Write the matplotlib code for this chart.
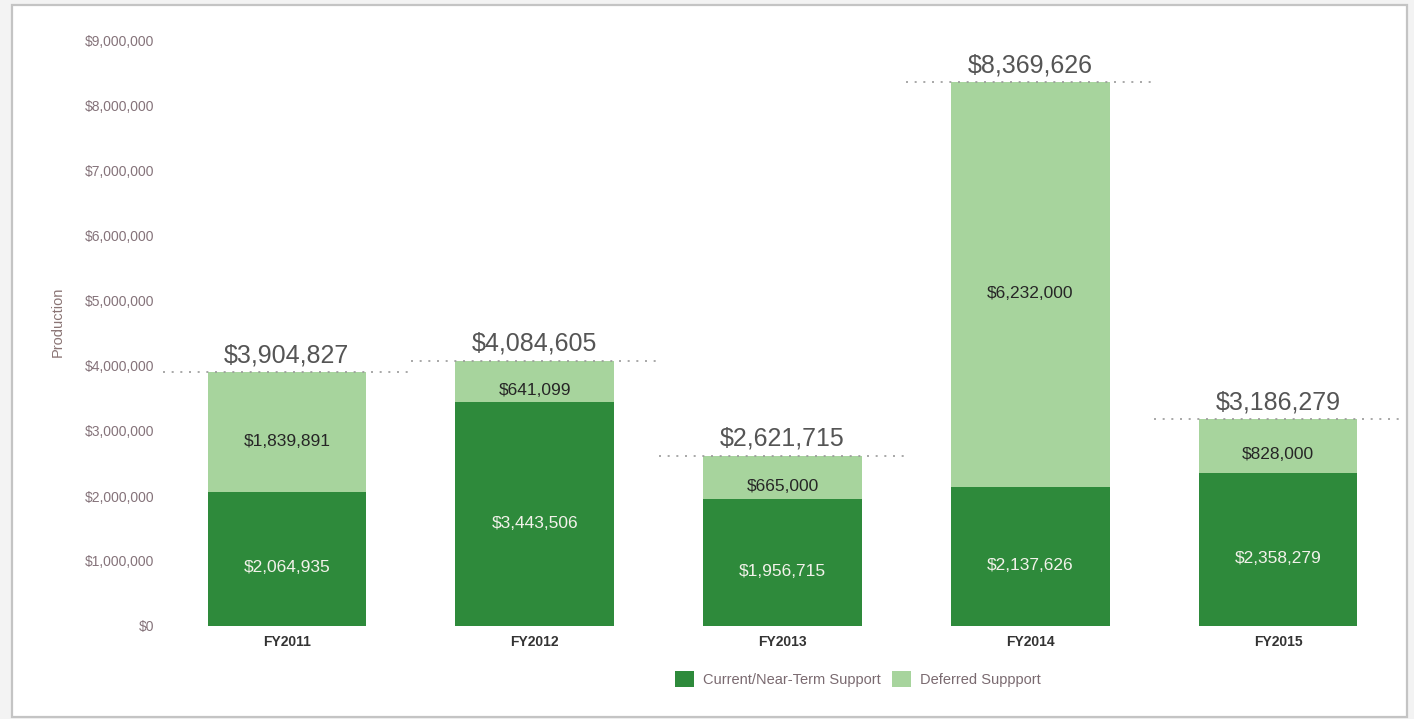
import matplotlib
matplotlib.use("Agg")
import matplotlib.pyplot as plt
from matplotlib.patches import Rectangle, Patch
from matplotlib.ticker import FuncFormatter

categories = ["FY2011", "FY2012", "FY2013", "FY2014", "FY2015"]
current_support = [2064935, 3443506, 1956715, 2137626, 2358279]
deferred_support = [1839891, 641099, 665000, 6232000, 828000]
total_labels = ["$3,904,827", "$4,084,605", "$2,621,715", "$8,369,626", "$3,186,279"]
series_names = ["Current/Near-Term Support", "Deferred Suppport"]
y_ticks = [0, 1000000, 2000000, 3000000, 4000000, 5000000, 6000000, 7000000, 8000000, 9000000]

plt.rcParams['font.family'] = ['Liberation Sans', 'DejaVu Sans']

W, H = 1414, 719
fig = plt.figure(figsize=(W / 100, H / 100), dpi=100)
fig.patch.set_facecolor('#f3f3f3')

# panel background / border
panel = Rectangle((12 / W, 1 - 717 / H), (1407 - 12) / W, (717 - 5) / H,
                  transform=fig.transFigure, facecolor='white',
                  edgecolor='#c4c4c4', linewidth=1.6, zorder=-10)
fig.patches.append(panel)

ax = fig.add_axes([163 / W, (H - 626) / H, (1402 - 163) / W, 598 / H])
ax.set_facecolor('none')
ax.set_zorder(1)

dark = '#2e8a3b'
light = '#a7d49d'
x = list(range(len(categories)))
width = 0.64

ax.bar(x, current_support, width, color=dark, label=series_names[0], zorder=2)
ax.bar(x, deferred_support, width, bottom=current_support, color=light,
       label=series_names[1], zorder=2)

totals = [c + d for c, d in zip(current_support, deferred_support)]

for i in x:
    c = current_support[i]
    d = deferred_support[i]
    t = totals[i]
    ax.annotate(f"${c:,}", (i, c / 2), xytext=(0, -6.5), textcoords='offset points',
                ha='center', va='center', fontsize=12.5, color='#f2f2ea', zorder=3)
    ax.annotate(f"${d:,}", (i, c + d / 2), xytext=(0, -6.5), textcoords='offset points',
                ha='center', va='center', fontsize=12.5, color='#262626',
                fontweight='medium', zorder=3)
    ax.plot([i - 0.5, i + 0.5], [t, t], linestyle=(0, (1.2, 4)), color='#9a9a9a',
            linewidth=1.2, zorder=4)
    ax.annotate(total_labels[i], (i, t), xytext=(0, 7), textcoords='offset points',
                ha='center', va='baseline', fontsize=18, color='#555555', zorder=3)

ax.set_xlim(-0.5, 4.5)
ax.set_ylim(0, 9200000)
ax.set_yticks(y_ticks)
ax.yaxis.set_major_formatter(FuncFormatter(lambda v, p: f"${int(v):,}"))
ax.set_xticks(x)
ax.set_xticklabels(categories, fontweight='bold', fontsize=10, color='#333333')
ax.tick_params(axis='y', length=0, pad=6, labelsize=10, labelcolor='#85737a')
ax.tick_params(axis='x', length=0, pad=6.5)
for s in ax.spines.values():
    s.set_visible(False)

ax.set_ylabel("Production", fontsize=10.5, color='#8a7474')
ax.yaxis.set_label_coords(-0.079, 0.508)

handles = [Patch(facecolor=dark, edgecolor='none'), Patch(facecolor=light, edgecolor='none')]
leg = fig.legend(handles, series_names, loc='center', bbox_to_anchor=(858 / W, 1 - 679 / H),
                 ncol=2, frameon=False, fontsize=10.5, handlelength=1.3, handleheight=1.3,
                 handletextpad=0.6, columnspacing=0.8)
for txt in leg.get_texts():
    txt.set_color('#7a6a70')

fig.savefig("out.png", dpi=100)
